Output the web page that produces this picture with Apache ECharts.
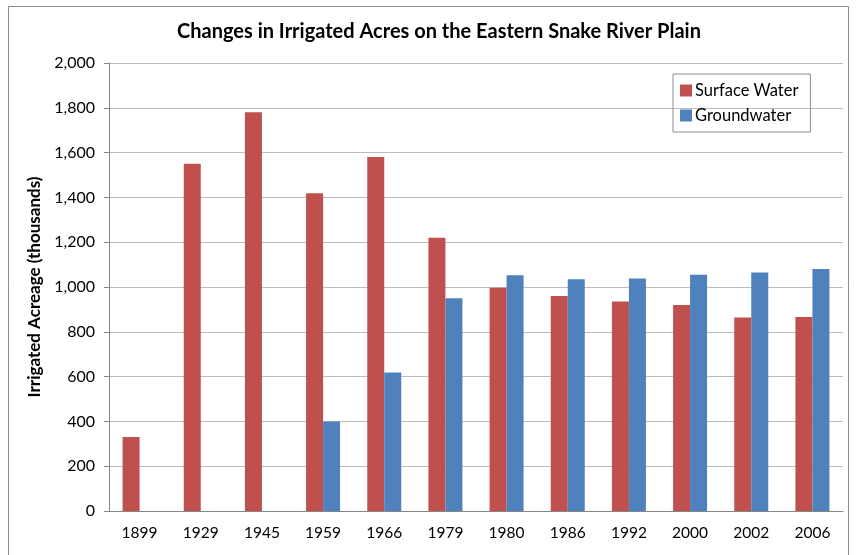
<!DOCTYPE html>
<html>
<head>
<meta charset="utf-8">
<script src="https://cdn.jsdelivr.net/npm/echarts@6/dist/echarts.min.js"></script>
<style>
  html, body { margin: 0; padding: 0; background: #fff; }
  #chart { width: 856px; height: 555px; }
</style>
</head>
<body>
<div id="chart"></div>
<script>
// years on the x axis
var years = ['1899', '1929', '1945', '1959', '1966', '1979', '1980', '1986', '1992', '2000', '2002', '2006']
// irrigated acres, thousands
var surfaceWater = [330, 1550, 1780, 1418, 1580, 1220, 997, 960, 935, 920, 864, 866]
var groundwater = [null, null, null, 400, 618, 950, 1053, 1035, 1038, 1055, 1065, 1080]
var yTicks = { min: 0, max: 2000, step: 200 }

var font = 'Lato, "Open Sans", sans-serif'
var chart = echarts.init(document.getElementById('chart'))

var option = {
  animation: false,
  textStyle: { fontFamily: font },
  title: {
    text: 'Changes in Irrigated Acres on the Eastern Snake River Plain',
    left: 172,
    top: 17,
    textStyle: { fontSize: 20, fontWeight: 'bold', color: '#000', fontFamily: font }
  },
  graphic: [{
    type: 'rect',
    shape: { x: 8.5, y: 6.5, width: 840, height: 560 },
    style: { fill: 'none', stroke: '#8c8c8c', lineWidth: 1 },
    silent: true
  }],
  legend: {
    orient: 'vertical',
    left: 673,
    top: 74,
    padding: [8, 12, 8, 7],
    itemGap: 8,
    itemWidth: 12,
    itemHeight: 12,
    borderColor: '#8c8c8c',
    borderWidth: 1,
    textStyle: { fontSize: 16.5, color: '#000', fontFamily: font, padding: [0, 0, 0, -2] },
    data: [
      { name: 'Surface Water', icon: 'rect' },
      { name: 'Groundwater', icon: 'rect' }
    ]
  },
  grid: { left: 109, right: 13, top: 63, bottom: 44 },
  xAxis: {
    type: 'category',
    data: years,
    axisLine: { lineStyle: { color: '#868686' } },
    axisTick: { length: 6, lineStyle: { color: '#868686' } },
    axisLabel: { fontSize: 15.5, color: '#000', margin: 14 }
  },
  yAxis: {
    type: 'value',
    min: yTicks.min,
    max: yTicks.max,
    interval: yTicks.step,
    name: 'Irrigated Acreage (thousands)',
    nameLocation: 'middle',
    nameGap: 59,
    nameTextStyle: { fontSize: 17, fontWeight: 'bold', color: '#000', fontFamily: font },
    axisLine: { show: true, lineStyle: { color: '#868686' } },
    axisTick: { show: true, length: 5, lineStyle: { color: '#868686' } },
    splitLine: { lineStyle: { color: '#bcbcbc' } },
    axisLabel: {
      fontSize: 16,
      color: '#000',
      margin: 14,
      formatter: function (v) { return v.toLocaleString('en-US') }
    }
  },
  series: [
    {
      name: 'Surface Water',
      type: 'bar',
      data: surfaceWater,
      barWidth: 17,
      barGap: '0%',
      itemStyle: { color: '#C0504D' }
    },
    {
      name: 'Groundwater',
      type: 'bar',
      data: groundwater,
      barWidth: 17,
      barGap: '0%',
      itemStyle: { color: '#4F81BD' }
    }
  ]
}
chart.setOption(option)
</script>
</body>
</html>
